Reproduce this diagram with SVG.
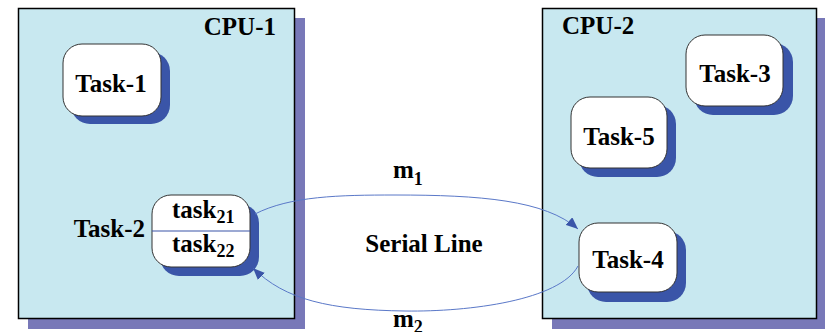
<svg xmlns="http://www.w3.org/2000/svg" width="825" height="332" viewBox="0 0 825 332">
  <style>
    .cpu { fill: #c8e8f0; stroke: #000; stroke-width: 1.5; }
    .cpu-shadow { fill: #7878b8; }
    .task { fill: #fff; stroke: #333; stroke-width: 1; }
    .task-shadow { fill: #3a55a8; }
    text { font-family: "Liberation Serif", "Times New Roman", "DejaVu Serif", serif; font-weight: bold; font-size: 25px; fill: #000; }
    .sub { font-size: 18px; }
    .link { fill: none; stroke: #5a78c8; stroke-width: 1; }
  </style>
  <defs>
    <marker id="arrow" viewBox="0 0 12 10" refX="12" refY="5" markerWidth="12" markerHeight="10" markerUnits="userSpaceOnUse" orient="auto">
      <path d="M0,0 L12,5 L0,10 Z" fill="#3a55a8"/>
    </marker>
  </defs>

  <rect width="825" height="332" fill="#fff"/>

  <!-- processor 1 -->
  <g id="cpu1">
    <rect class="cpu-shadow" x="28" y="18" width="277" height="311"/>
    <rect class="cpu" x="18.5" y="8.5" width="276" height="310"/>
    <text x="276" y="35" text-anchor="end">CPU-1</text>
  </g>

  <!-- processor 2 -->
  <g id="cpu2">
    <rect class="cpu-shadow" x="552" y="18" width="275" height="311"/>
    <rect class="cpu" x="542.5" y="8.5" width="274" height="310"/>
    <text x="562" y="34">CPU-2</text>
  </g>

  <g id="task1">
    <rect class="task-shadow" x="71" y="52" width="99" height="72" rx="19"/>
    <rect class="task" x="63" y="44" width="98" height="72" rx="19"/>
    <text x="111" y="92" text-anchor="middle">Task-1</text>
  </g>

  <g id="task2">
    <rect class="task-shadow" x="160" y="204" width="99" height="72" rx="19"/>
    <rect class="task" x="152" y="195" width="98" height="72" rx="19"/>
    <line x1="152" y1="231" x2="250" y2="231" stroke="#3a55a8" stroke-width="1.2"/>
    <text x="172" y="218">task<tspan class="sub" dy="5">21</tspan></text>
    <text x="172" y="252">task<tspan class="sub" dy="5">22</tspan></text>
    <text x="145" y="237" text-anchor="end">Task-2</text>
  </g>

  <g id="task3">
    <rect class="task-shadow" x="694" y="43" width="99" height="72" rx="19"/>
    <rect class="task" x="686" y="35" width="97" height="71" rx="19"/>
    <text x="735" y="82" text-anchor="middle">Task-3</text>
  </g>

  <g id="task5">
    <rect class="task-shadow" x="579" y="105" width="97" height="72" rx="19"/>
    <rect class="task" x="571" y="97" width="96" height="71" rx="19"/>
    <text x="619" y="145" text-anchor="middle">Task-5</text>
  </g>

  <g id="task4">
    <rect class="task-shadow" x="587" y="231" width="99" height="71" rx="19"/>
    <rect class="task" x="579" y="223" width="98" height="69" rx="19"/>
    <text x="628" y="268" text-anchor="middle">Task-4</text>
  </g>

  <!-- serial line messages -->
  <g id="connectors">
    <path class="link" d="M255,214 C290,196 340,195 395,195 C480,195 545,200 578,229" marker-end="url(#arrow)"/>
    <path class="link" d="M578,266 C560,300 470,312 405,311 C330,310 285,300 253,268" marker-end="url(#arrow)"/>
    <text x="393" y="178">m<tspan class="sub" dy="7">1</tspan></text>
    <text x="393" y="327">m<tspan class="sub" dy="6">2</tspan></text>
    <text x="424" y="252" text-anchor="middle">Serial Line</text>
  </g>
</svg>
